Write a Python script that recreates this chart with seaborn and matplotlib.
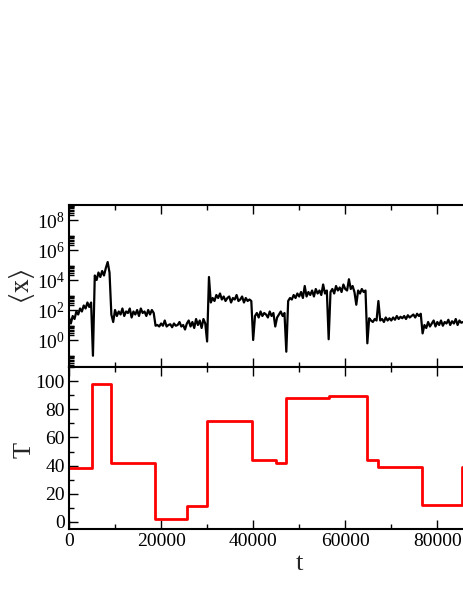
import numpy as np
import pandas as pd
import seaborn as sns
import matplotlib.pyplot as plt
from matplotlib import ticker

# <x>(t): log10 values, one every 400 time units
t_step = 400
logx_values = [
    1.5, 1.1, 1.6, 1.4, 1.9, 1.7, 2.1, 1.9, 2.3, 2.1, 2.5, 2.2, 2.5,
    -1.05,
    4.3, 4.0, 4.5, 4.2, 4.6, 4.3, 4.8, 5.2, 4.5,
    1.7, 1.2, 2.0, 1.6, 1.9, 1.7, 2.1, 1.6, 1.9, 1.8, 2.1, 1.5, 1.9, 1.7, 2.0, 1.6, 2.1, 1.8, 1.9, 1.6, 2.0, 1.7, 2.0, 1.8,
    0.95, 1.0, 0.9, 1.1, 0.95, 1.3, 0.9, 1.0, 1.05, 0.85, 1.1, 0.95, 1.0, 1.2, 0.9, 1.0, 0.7, 1.1, 1.3, 0.9, 1.2, 0.8, 1.4, 1.0, 1.3, 0.8, 1.4, 1.1,
    -0.1, 4.2,
    2.5, 2.8, 2.6, 3.0, 2.8, 3.1, 2.7, 2.9, 2.6, 2.8, 2.9, 2.5, 2.8, 2.7, 3.0, 2.6, 2.7, 2.9, 2.5, 2.8, 2.6, 2.7, 2.6,
    0.0,
    1.6, 1.8, 1.5, 1.9, 1.6, 1.8, 1.7, 1.5, 1.9, 1.6, 1.8, 0.9, 1.5, 1.7, 1.9, 1.6, 1.8,
    -0.78,
    2.6, 2.8, 2.7, 3.0, 2.8, 3.1, 2.9, 3.2, 2.8, 3.6, 2.9, 3.2, 3.0, 3.3, 2.9, 3.4, 3.1, 3.3, 3.0, 3.7, 3.1, 3.3,
    0.05,
    3.2, 3.4, 3.1, 3.6, 3.3, 3.5, 3.2, 3.7, 3.4, 3.3, 4.05, 3.4, 3.6, 3.2, 2.35, 3.3, 3.1, 3.4, 3.2, 3.3,
    -0.22,
    1.45, 1.3, 1.2, 1.4, 1.3, 2.6, 1.3, 1.4, 1.2, 1.5, 1.3, 1.45, 1.3, 1.5, 1.35, 1.6, 1.4, 1.55, 1.45, 1.6, 1.4, 1.65, 1.5, 1.6, 1.7, 1.5, 1.75, 1.6, 1.75,
    0.44,
    1.0, 0.8, 1.2, 0.9, 1.1, 1.3, 0.9, 1.2, 1.0, 1.3, 0.95, 1.2, 1.1, 1.35, 1.0, 1.25, 1.1, 1.4, 1.0, 1.3, 1.15, 1.2,
]

# temperature schedule T(t), piecewise constant
T_switch = [0, 5060, 9050, 18680, 25700, 30040, 39750, 44890, 47130, 56540, 64730, 67190, 76740, 85420, 100000]
T_values = [38, 98, 42, 2, 11, 72, 44, 42, 88, 89.5, 44, 39, 12, 39, 39]

ytick_exp = [0, 2, 4, 6, 8]

sns.set_style("ticks")
plt.rcParams['font.family'] = ['Liberation Serif', 'DejaVu Serif']
plt.rcParams['mathtext.fontset'] = 'stix'

t = np.arange(len(logx_values)) * t_step
df_x = pd.DataFrame({'t': t, 'x': 10.0 ** np.array(logx_values)})
df_T = pd.DataFrame({'t': T_switch, 'T': T_values})

fig = plt.figure(figsize=(4.63, 5.99), dpi=100)
W = 463.0
H = 599.0
left = 69 / W
width = 100000 * 0.004604 / W
ax1 = fig.add_axes([left, 1 - 367 / H, width, 162 / H])
ax2 = fig.add_axes([left, 1 - 529 / H, width, 162 / H])

sns.lineplot(data=df_x, x='t', y='x', ax=ax1, color='black', lw=1.6, estimator=None)
sns.lineplot(data=df_T, x='t', y='T', ax=ax2, color='#ff0000', lw=2.0,
             drawstyle='steps-post', estimator=None)

ax1.set_yscale('log')
ax1.set_ylim(10 ** -1.8, 1e9)
ax1.yaxis.set_major_locator(ticker.FixedLocator([10.0 ** e for e in ytick_exp]))
ax1.yaxis.set_major_formatter(ticker.FuncFormatter(
    lambda v, p: r'$\mathdefault{10^{%d}}$' % round(np.log10(v))))
ax1.yaxis.set_minor_locator(ticker.LogLocator(base=100, subs=[2, 3, 4, 5, 6, 7, 8, 9], numticks=20))
ax1.yaxis.set_minor_formatter(ticker.NullFormatter())

ax2.set_ylim(-5, 110)
ax2.yaxis.set_major_locator(ticker.MultipleLocator(20))
ax2.yaxis.set_minor_locator(ticker.MultipleLocator(10))

for ax in (ax1, ax2):
    ax.set_xlim(0, 100000)
    ax.xaxis.set_major_locator(ticker.MultipleLocator(20000))
    ax.xaxis.set_minor_locator(ticker.MultipleLocator(10000))
    ax.tick_params(which='both', direction='in', top=True, right=True, width=1.0,
                   labelsize=14, colors='black')
    ax.tick_params(which='major', length=6.5, pad=3)
    ax.tick_params(which='minor', length=3.5)
    for s in ax.spines.values():
        s.set_linewidth(1.5)
        s.set_color('black')

ax1.tick_params(labelbottom=False)
ax1.set_xlabel('')
ax1.set_ylabel(r'$\langle \mathrm{x} \rangle$', fontsize=20)
ax1.yaxis.set_label_coords(-0.07, 0.5)

ax2.set_ylabel('T', fontsize=19)
ax2.yaxis.set_label_coords(-0.073, 0.49)
ax2.set_xlabel('t', fontsize=19, labelpad=2)

fig.savefig('out.png', dpi=100)
